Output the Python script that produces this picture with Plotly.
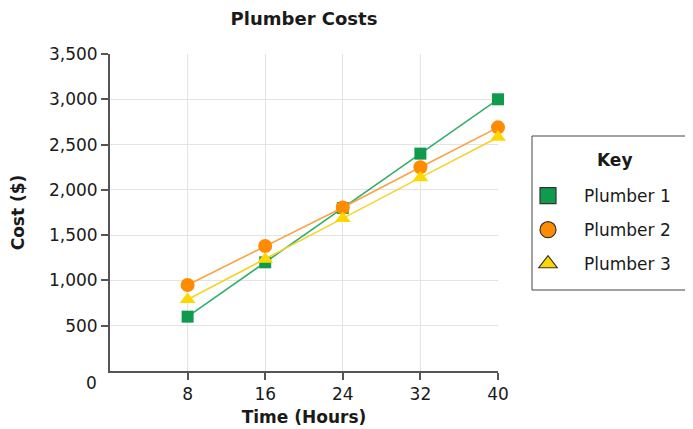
import plotly.graph_objects as go

hours = [8, 16, 24, 32, 40]
plumber1 = [600, 1200, 1800, 2400, 3000]
plumber2 = [950, 1380, 1805, 2250, 2690]
plumber3 = [790, 1235, 1685, 2135, 2580]
series_names = ["Plumber 1", "Plumber 2", "Plumber 3"]
y_ticks = [500, 1000, 1500, 2000, 2500, 3000, 3500]
x_ticks = [8, 16, 24, 32, 40]

marker_colors = ["#109b4c", "#ff8c00", "#ffd700"]
line_colors = ["#2fae6b", "#f8a444", "#f5d42a"]
symbols = ["square", "circle", "triangle-up"]
sizes = [12, 14, 14]

FONT = "DejaVu Sans"
TXT = "#1a1a1a"

# page body has an 8px margin; figure is sized to fit the window from there
W, H = 685, 421
L, T, R, B = 102, 46, 195, 58
pw, ph = W - L - R, H - T - B


def px_x(x):
    return (x - L) / pw


def px_y(y):
    return (H - B - y) / ph


fig = go.Figure()
for name, ys, mc, lc, sym, sz in zip(series_names, [plumber1, plumber2, plumber3],
                                     marker_colors, line_colors, symbols, sizes):
    fig.add_trace(go.Scatter(
        x=hours, y=ys, mode="lines+markers", name=name, showlegend=False,
        line=dict(color=lc, width=1.6),
        marker=dict(symbol=sym, size=sz, color=mc, line=dict(width=0)),
        cliponaxis=False,
    ))
for i, (name, mc, sym) in enumerate(zip(series_names, marker_colors, symbols)):
    fig.add_trace(go.Scatter(
        x=[None], y=[None], mode="markers", name=name, legendgroup=f"g{i}",
        marker=dict(symbol=sym, size=16, color=mc, line=dict(width=1.2, color="#333")),
    ))

fig.update_layout(
    width=W, height=H,
    margin=dict(l=L, r=R, t=T, b=B),
    paper_bgcolor="white", plot_bgcolor="white",
    font=dict(family=FONT, size=16, color=TXT),
    title=dict(text="<b>Plumber Costs</b>", x=296/W, xanchor="center",
               y=1 - 11/H, yanchor="middle", yref="container",
               font=dict(size=18, family=FONT, color=TXT)),
    xaxis=dict(range=[0, 40], tickvals=x_ticks, ticks="outside", ticklen=7,
               tickwidth=2, tickcolor="#555", showline=True, linecolor="#555",
               linewidth=2, showgrid=True, gridcolor="#e3e3e3", gridwidth=1,
               zeroline=False, tickfont=dict(size=17), automargin=False,
               title=dict(text="<b>Time (Hours)</b>", font=dict(size=17), standoff=8)),
    yaxis=dict(range=[0, 3500], tickvals=y_ticks, tickformat=",d", ticks="outside",
               ticklen=7, tickwidth=2, tickcolor="#555", showline=True,
               linecolor="#555", linewidth=2, showgrid=True, gridcolor="#e3e3e3",
               gridwidth=1, zeroline=False, tickfont=dict(size=17), automargin=False,
               title=dict(text="<b>Cost ($)</b>", font=dict(size=17), standoff=20)),
    legend=dict(x=px_x(504), y=px_y(170), xanchor="left", yanchor="top",
                borderwidth=0, bgcolor="rgba(0,0,0,0)",
                font=dict(size=17, family=FONT, color=TXT),
                itemsizing="trace", tracegroupgap=9, itemwidth=62),
    showlegend=True,
)
# legend frame and heading
fig.add_shape(type="rect", xref="paper", yref="paper",
              x0=px_x(524), x1=px_x(683), y0=px_y(128), y1=px_y(282),
              line=dict(color="#444", width=1), fillcolor="rgba(0,0,0,0)")
fig.add_annotation(text="<b>Key</b>", x=px_x(607), y=px_y(152), xref="paper", yref="paper",
                   xanchor="center", yanchor="middle", showarrow=False,
                   font=dict(size=17, family=FONT, color=TXT))
fig.add_annotation(text="0", x=-19/pw, y=-12/ph, xref="paper", yref="paper",
                   xanchor="center", yanchor="middle",
                   showarrow=False, font=dict(size=17, family=FONT, color=TXT))

fig.write_html("out.html")
